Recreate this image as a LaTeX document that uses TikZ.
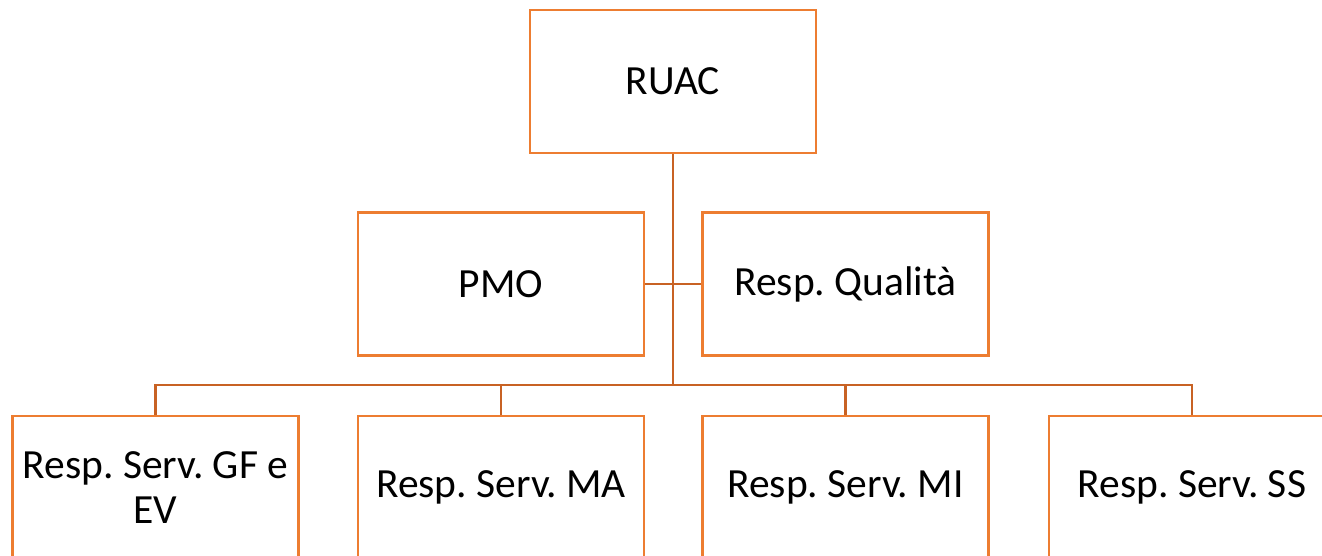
\documentclass[tikz,border=0pt]{standalone}
\usepackage{fontspec}
\setmainfont{Carlito}
\frenchspacing
\definecolor{boxorange}{RGB}{237,125,49}
\definecolor{linkorange}{RGB}{200,98,36}

\begin{document}
\begin{tikzpicture}[x=1pt,y=-1pt,
    role/.style={draw=boxorange, line width=2.8pt, fill=white, minimum width=286pt, minimum height=143pt, inner sep=0pt, align=center, font=\fontsize{41.5}{45}\selectfont},
    link/.style={draw=linkorange, line width=2.8pt}]
        \useasboundingbox (0,0) rectangle (1322,555);
        \clip (0,0) rectangle (1322,555);
        \coordinate (bus) at (673,385);

        \node[role] (ruac) at (673,81.5) {RUAC};
        \node[role] (pmo) at (501,284) {PMO};
        \node[role] (qual) at (845.5,284) {Resp. Qualità};

        \node[role] (gf) at (155.5,487.5) {Resp. Serv. GF e\\EV};
        \node[role] (ma) at (501,487.5) {Resp. Serv. MA};
        \node[role] (mi) at (845.5,487.5) {Resp. Serv. MI};
        \node[role] (ss) at (1192,487.5) {Resp. Serv. SS};

        \draw[link] (ruac.south) -- (bus);
        \draw[link] (pmo.east) -- (qual.west);
        \foreach \n in {gf,ma,mi,ss}
            \draw[link] (bus) -| (\n.north);
    \end{tikzpicture}
\end{document}
